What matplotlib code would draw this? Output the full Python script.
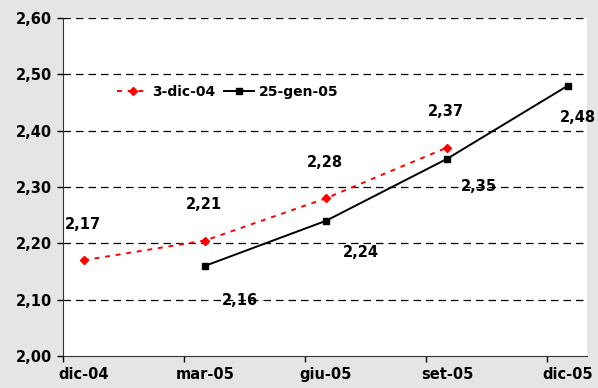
import numpy as np
import matplotlib.pyplot as plt

# data
months = ['dic-04', 'mar-05', 'giu-05', 'set-05', 'dic-05']
dic04 = [2.17, 2.205, 2.28, 2.37]      # 3-dic-04, dic-04 .. set-05
gen05 = [2.16, 2.24, 2.35, 2.48]       # 25-gen-05, mar-05 .. dic-05
dic04_lbl = ['2,17', '2,21', '2,28', '2,37']
gen05_lbl = ['2,16', '2,24', '2,35', '2,48']
yticks = [2.00, 2.10, 2.20, 2.30, 2.40, 2.50, 2.60]

plt.rcParams['font.family'] = ['DejaVu Sans']
plt.rcParams['font.weight'] = 'bold'

fig = plt.figure(figsize=(5.98, 3.88), dpi=100, facecolor='#e5e5e5')
ax = fig.add_axes([0.1054, 0.0825, 0.8762, 0.8711])
ax.set_facecolor('white')

x = np.arange(len(months))
xr = x[:4]
xb = x[1:]

ax.plot(xr, dic04, color='red', lw=1.4, ls=(0, (2.5, 3)), marker='D',
        ms=4.5, mec='red', mfc='red', label='3-dic-04', zorder=3)
ax.plot(xb, gen05, color='black', lw=1.4, marker='s', ms=5,
        label='25-gen-05', zorder=3)

# labels: red above, black below-right
for xi, yi, t in zip(xr, dic04, dic04_lbl):
    ax.annotate(t, (xi, yi), xytext=(-1, 26), textcoords='offset points',
                ha='center', va='center', fontsize=10.5, fontweight='bold')
off_b = [(25, -25), (25, -23), (23, -20), (7, -23)]
for (xi, yi, t), o in zip(zip(xb, gen05, gen05_lbl), off_b):
    ax.annotate(t, (xi, yi), xytext=o, textcoords='offset points',
                ha='center', va='center', fontsize=10.5, fontweight='bold',
                annotation_clip=False)

# tick marks sit a bit left of each category point
shift = 21 / 121
ax.set_xlim(-shift, 4 + 19 / 121)
ax.set_ylim(2.0, 2.6)
ax.set_yticks(yticks)
ax.set_yticklabels([f'{v:.2f}'.replace('.', ',') for v in yticks])
ax.set_xticks(x)
ax.set_xticklabels(months)
ax.set_xticks(x - shift, minor=True)
ax.tick_params(axis='x', which='major', length=0, pad=8, labelsize=10.5)
ax.tick_params(axis='x', which='minor', length=4, width=1)
ax.tick_params(axis='y', length=4, width=1, labelsize=10.5, pad=4)

for v in yticks[1:]:
    ax.axhline(v, color='black', lw=0.9, ls=(0, (6, 4)), zorder=1)

for s in ['top', 'right']:
    ax.spines[s].set_visible(False)
ax.spines['left'].set_color('#333333')
ax.spines['bottom'].set_color('#333333')

ax.legend(loc='upper left', bbox_to_anchor=(0.08, 0.84), ncol=2, frameon=False,
          handlelength=2.2, handletextpad=0.3, columnspacing=0.6,
          prop={'weight': 'bold', 'size': 10})

fig.savefig('out.png', dpi=100, facecolor=fig.get_facecolor())
